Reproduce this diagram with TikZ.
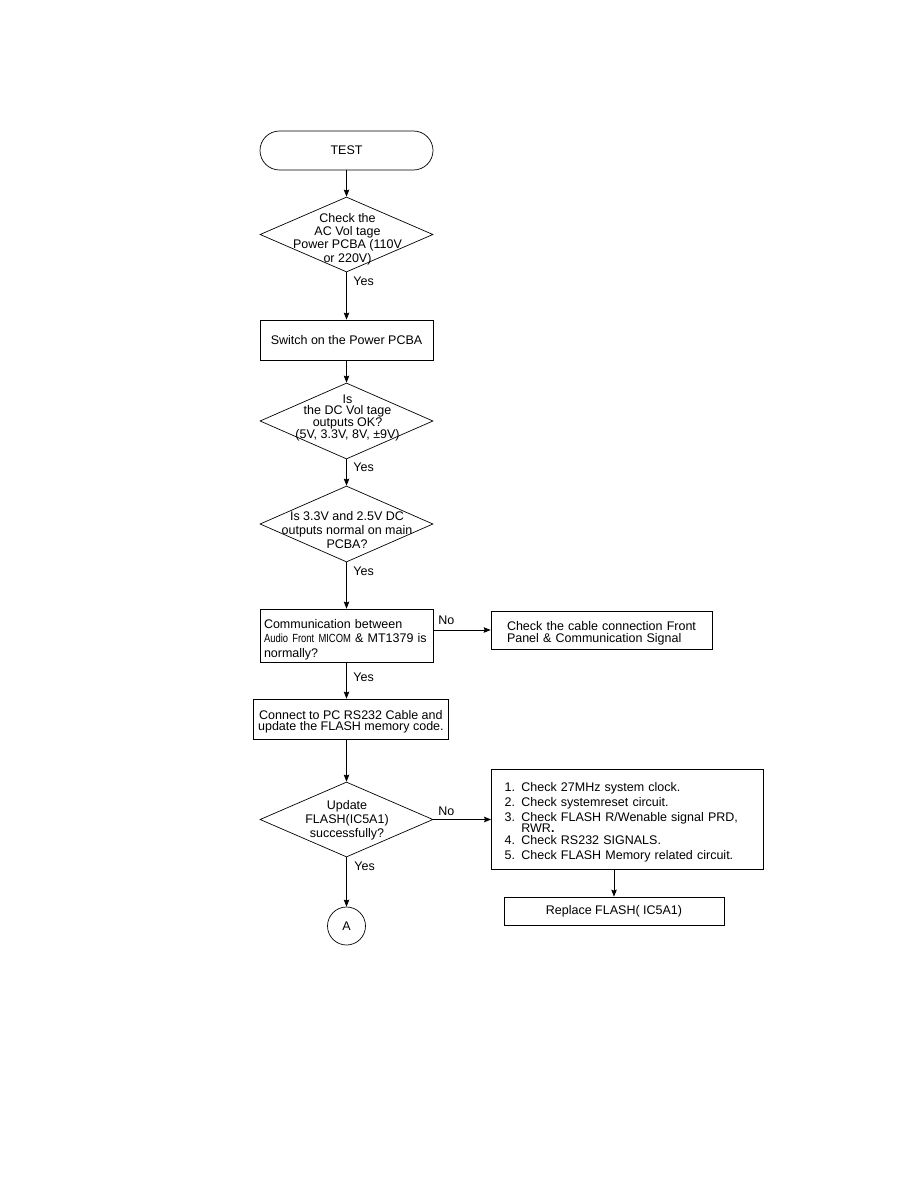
\documentclass[tikz,border=0pt]{standalone}
\usepackage{fontspec}
\setmainfont{Liberation Sans}
\newfontfamily\narrowfont[FakeStretch=0.8]{Liberation Sans}
\usetikzlibrary{shapes.geometric,arrows.meta}
\begin{document}
\begin{tikzpicture}[x=1pt,y=-1pt,
  line width=0.7pt,
  every node/.style={font=\fontsize{12.5}{14}\selectfont},
  box/.style={draw, rectangle, inner sep=0pt},
  dec/.style={draw, diamond, minimum width=173pt, minimum height=75pt, inner sep=0pt},
  dtext/.style={align=center, inner sep=0pt},
  lbl/.style={anchor=west, inner sep=0pt},
  arr/.style={-{Stealth[length=7pt,width=5.5pt,inset=1pt]}},
]
\useasboundingbox (0,0) rectangle (914,1190);

% main column
\node[box, rounded corners=19.5pt, minimum width=173pt, minimum height=39pt] (test) at (346.5,150.5) {TEST};

\node[dec] (d1) at (346.5,234.5) {};
\node[dtext, font=\fontsize{12.5}{13.3}\selectfont] (d1t) at (347.5,239) {Check the\\AC Vol tage\\Power PCBA (110V\\or 220V)};
\node[lbl] (y1) at (353,281) {Yes};

\node[box, minimum width=173pt, minimum height=40pt] (b1) at (346.5,340) {Switch on the Power PCBA};

\node[dec, minimum height=76pt] (d2) at (346.5,421) {};
\node[dtext, font=\fontsize{12.5}{11}\selectfont] (d2t) at (347.5,418) {Is\\the DC Vol tage\\outputs OK?\\(5V, 3.3V, 8V, ±9V)};
\node[lbl] (y2) at (353,467) {Yes};

\node[dec, minimum height=76pt] (d3) at (346.5,524) {};
\node[dtext, font=\fontsize{12.5}{14}\selectfont] (d3t) at (347,530) {Is 3.3V and 2.5V DC\\outputs normal on main\\PCBA?};
\node[lbl] (y3) at (353,571) {Yes};

\node[box, minimum height=53pt, text width=165pt, inner xsep=4pt, align=left, font=\fontsize{12.5}{14.5}\selectfont] (comm) at (346.5,635.5) {\rule{0pt}{17pt}Communication between\\{\narrowfont\fontsize{11.8}{14.5}\selectfont Audio Front MICOM} \& MT1379 is\\normally?};
\node[lbl] (n1) at (438,620) {No};
\node[box, minimum height=38pt, text width=189pt, inner xsep=16pt, align=left, font=\fontsize{12.5}{11.5}\selectfont] (r1) at (601.5,630) {\rule{0pt}{16pt}Check the cable connection Front\\Panel \& Communication Signal};
\node[lbl] (y4) at (353,677) {Yes};

\node[box, minimum width=195pt, minimum height=40pt, align=center, font=\fontsize{12.5}{11.5}\selectfont] (conn) at (350.9,719) {\rule{0pt}{15pt}Connect to PC RS232 Cable and\\update the FLASH memory code.};

\node[dec] (d4) at (346.5,819.5) {};
\node[dtext, font=\fontsize{12.5}{14}\selectfont] (d4t) at (347,820) {Update\\FLASH(IC5A1)\\successfully?};
\node[lbl] (n2) at (438,811) {No};
\node[lbl] (y5) at (354,866) {Yes};

\node[box, minimum height=100pt, text width=245pt, inner xsep=13.3pt, align=left, font=\fontsize{12.5}{15}\selectfont] (b2) at (627.2,819) {\rule{0pt}{15pt}1. Check 27MHz system clock.\\2. Check systemreset circuit.\\3. Check FLASH R/Wenable signal PRD,\\[-3.3pt]\hphantom{3. }RWR\textbf{.}\\[-3.3pt]4. Check RS232 SIGNALS.\\5. Check FLASH Memory related circuit.};

\node[box, minimum width=220pt, minimum height=28pt] (rep) at (614,911) {Replace FLASH( IC5A1)};

\node[draw, circle, minimum size=38pt, inner sep=0pt] (ca) at (346.5,926) {A};

% connectors
\draw[arr] (test) -- (d1);
\draw[arr] (d1) -- (b1);
\draw[arr] (b1) -- (d2);
\draw[arr] (d2) -- (d3);
\draw[arr] (d3) -- (comm);
\draw[arr] (comm.east |- r1.west) -- (r1.west);
\draw[arr] (comm.south) -- (comm.south |- conn.north);
\draw[arr] (conn.south -| d4.north) -- (d4.north);
\draw[arr] (d4.east) -- (d4.east -| b2.west);
\draw[arr] (rep.north |- b2.south) -- (rep.north);
\draw[arr] (d4) -- (ca);
\end{tikzpicture}
\end{document}
